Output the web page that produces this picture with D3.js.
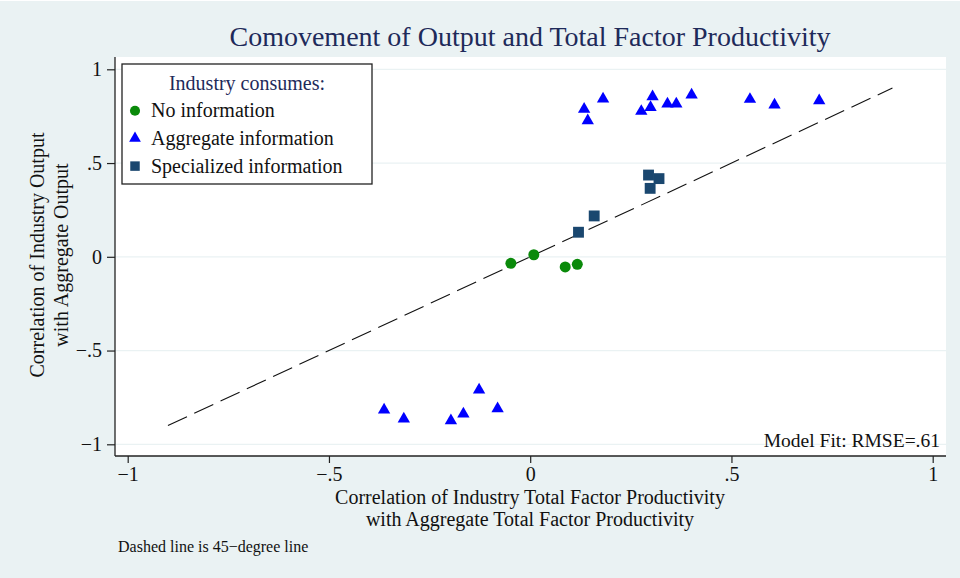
<!DOCTYPE html>
<html>
<head>
<meta charset="utf-8">
<script src="https://cdn.jsdelivr.net/npm/d3@7"></script>
<style>
  body { margin: 0; background: #fff; }
  svg { display: block; font-family: "Liberation Serif", "DejaVu Serif", serif; }
</style>
</head>
<body>
<svg id="chart" width="960" height="578"></svg>
<script>
// --- Data ---
const noInfo = [
    [-0.048, -0.035], [0.009, 0.011], [0.087, -0.054], [0.117, -0.040]
];
const aggInfo = [
    [0.134, 0.787], [0.181, 0.842], [0.143, 0.726], [0.276, 0.776],
    [0.304, 0.854], [0.299, 0.797], [0.341, 0.815], [0.363, 0.815],
    [0.401, 0.863], [0.546, 0.840], [0.607, 0.810], [0.718, 0.833],
    [-0.363, -0.817], [-0.314, -0.865], [-0.197, -0.874], [-0.166, -0.838],
    [-0.127, -0.710], [-0.081, -0.810]
];
const specInfo = [
    [0.294, 0.436], [0.320, 0.417], [0.298, 0.365], [0.159, 0.218], [0.120, 0.131]
];
const diagLine = [[-0.9, -0.9], [0.9, 0.9]];
const xTicks = [-1, -0.5, 0, 0.5, 1];
const yTicks = [-1, -0.5, 0, 0.5, 1];
const legendLabels = ['No information', 'Aggregate information', 'Specialized information'];

// Stata-style tick label: drop leading zero, unicode minus
const fmt = v => {
    if (v === 0) return '0';
    let s = String(Math.abs(v)).replace(/^0\./, '.');
    return (v < 0 ? '\u2212' : '') + s;
};

const W = 960, H = 578;
const plot = { left: 115, right: 946, top: 57, bottom: 456 };
const svg = d3.select('#chart');

svg.append('rect').attr('x', 0).attr('y', 1).attr('width', W).attr('height', H - 1).attr('fill', '#eaf2f3');
svg.append('rect')
    .attr('x', plot.left).attr('y', plot.top)
    .attr('width', plot.right - plot.left).attr('height', plot.bottom - plot.top)
    .attr('fill', '#fff');

const x = d3.scaleLinear().domain([-1, 1]).range([127.7, 932.7]);
const y = d3.scaleLinear().domain([-1, 1]).range([444.3, 69.3]);

// gridlines
svg.selectAll('.grid')
    .data(yTicks)
    .join('line')
    .attr('x1', plot.left).attr('x2', plot.right)
    .attr('y1', d => y(d)).attr('y2', d => y(d))
    .attr('stroke', '#eaf2f3').attr('stroke-width', 1.3);

// axes
const xAxis = svg.append('g')
    .attr('transform', `translate(0,${plot.bottom})`)
    .call(d3.axisBottom(x).tickValues(xTicks).tickFormat(fmt).tickSize(7).tickPadding(4).tickSizeOuter(0));
const yAxis = svg.append('g')
    .attr('transform', `translate(${plot.left},0)`)
    .call(d3.axisLeft(y).tickValues(yTicks).tickFormat(fmt).tickSize(8).tickPadding(5).tickSizeOuter(0));
[xAxis, yAxis].forEach(a => {
    a.select('.domain').remove();
    a.selectAll('.tick line').attr('stroke', '#222').attr('stroke-width', 1.2);
    a.selectAll('text').attr('fill', '#111').style('font-size', '20px')
        .style('font-family', '"Liberation Serif", serif');
});
// axis lines spanning the plot region
svg.append('line').attr('x1', plot.left).attr('x2', plot.right)
    .attr('y1', plot.bottom).attr('y2', plot.bottom).attr('stroke', '#222').attr('stroke-width', 1.3);
svg.append('line').attr('x1', plot.left).attr('x2', plot.left)
    .attr('y1', plot.top).attr('y2', plot.bottom).attr('stroke', '#222').attr('stroke-width', 1.3);

// 45-degree line
svg.append('path')
    .datum(diagLine)
    .attr('d', d3.line().x(d => x(d[0])).y(d => y(d[1])))
    .attr('fill', 'none').attr('stroke', '#111').attr('stroke-width', 1.1)
    .attr('stroke-dasharray', '21,8');

// markers
const sym = {
    circle: d3.symbol().type(d3.symbolCircle).size(95),
    triangle: d3.symbol().type(d3.symbolTriangle).size(66),
    square: d3.symbol().type(d3.symbolSquare).size(118)
};
const colors = { circle: '#0a8a0a', triangle: '#0000ff', square: '#1a476f' };

function drawSeries(data, kind) {
    svg.append('g').selectAll('path')
        .data(data)
        .join('path')
        .attr('transform', d => `translate(${x(d[0])},${y(d[1])})`)
        .attr('d', sym[kind]())
        .attr('fill', colors[kind]);
}
drawSeries(noInfo, 'circle');
drawSeries(aggInfo, 'triangle');
drawSeries(specInfo, 'square');

// model fit text
svg.append('text')
    .attr('x', 940).attr('y', 447)
    .attr('text-anchor', 'end')
    .style('font-size', '19.5px').attr('fill', '#111')
    .text('Model Fit: RMSE=.61');

// legend
const lg = svg.append('g');
lg.append('rect').attr('x', 122).attr('y', 64).attr('width', 250).attr('height', 120)
    .attr('fill', '#fff').attr('stroke', '#222').attr('stroke-width', 1.3);
lg.append('text').attr('x', 247).attr('y', 90).attr('text-anchor', 'middle')
    .style('font-size', '20px').attr('fill', '#1e2a5a').text('Industry consumes:');
const kinds = ['circle', 'triangle', 'square'];
legendLabels.forEach((label, i) => {
    const cy = 110.7 + i * 27.7;
    lg.append('path').attr('transform', `translate(135,${cy})`)
        .attr('d', d3.symbol().type([d3.symbolCircle, d3.symbolTriangle, d3.symbolSquare][i]).size([80, 60, 90][i])())
        .attr('fill', colors[kinds[i]]);
    lg.append('text').attr('x', 151).attr('y', cy + 6.5)
        .style('font-size', '20px').attr('fill', '#111').text(label);
});

// title
svg.append('text').attr('x', 530).attr('y', 46).attr('text-anchor', 'middle')
    .style('font-size', '28px').attr('fill', '#1e2a5a')
    .text('Comovement of Output and Total Factor Productivity');

// x axis title
svg.append('text').attr('x', 530).attr('y', 504).attr('text-anchor', 'middle')
    .style('font-size', '20px').attr('fill', '#111')
    .text('Correlation of Industry Total Factor Productivity');
svg.append('text').attr('x', 530).attr('y', 526).attr('text-anchor', 'middle')
    .style('font-size', '20px').attr('fill', '#111')
    .text('with Aggregate Total Factor Productivity');

// y axis title
const yt = svg.append('g').attr('transform', 'translate(0,255) rotate(-90)');
yt.append('text').attr('x', 0).attr('y', 44).attr('text-anchor', 'middle')
    .style('font-size', '20px').attr('fill', '#111').text('Correlation of Industry Output');
yt.append('text').attr('x', 0).attr('y', 68).attr('text-anchor', 'middle')
    .style('font-size', '20px').attr('fill', '#111').text('with Aggregate Output');

// note
svg.append('text').attr('x', 118).attr('y', 552)
    .style('font-size', '16px').attr('fill', '#111')
    .text('Dashed line is 45\u2212degree line');
</script>
</body>
</html>
